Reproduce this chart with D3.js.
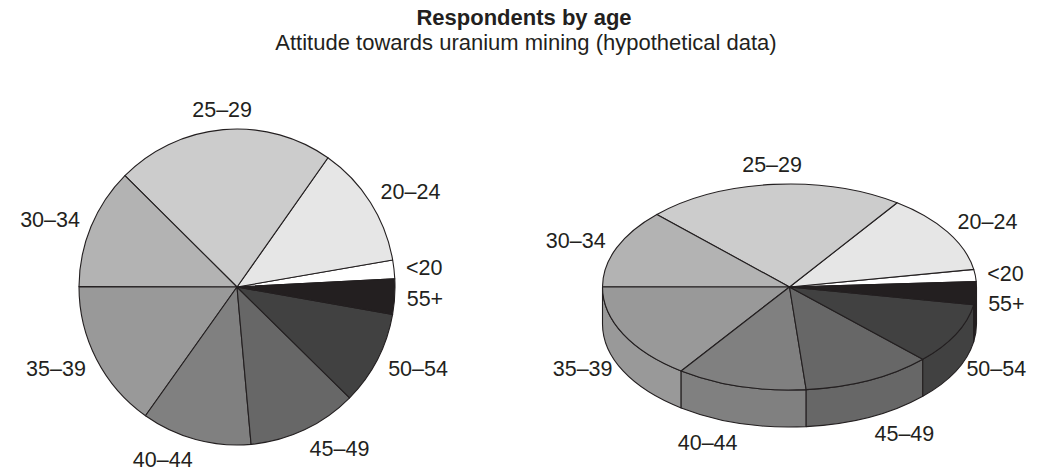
<!DOCTYPE html>
<html>
<head>
<meta charset="utf-8">
<script src="https://cdn.jsdelivr.net/npm/d3@7"></script>
<style>
  body { margin: 0; background: #fff; }
  svg { display: block; font-family: "Liberation Sans", Arial, sans-serif; }
</style>
</head>
<body>
<svg id="chart"></svg>
<script>
// age groups and share of respondents (%)
const ageGroups = ["<20", "20–24", "25–29", "30–34", "35–39", "40–44", "45–49", "50–54", "55+"];
const shares = [1.9, 12.5, 22.3, 12.4, 15.2, 11.25, 11.2, 9.6, 3.6];
const greys = ["#ffffff", "#e6e6e6", "#cccccc", "#b3b3b3", "#999999", "#808080", "#676767", "#414141", "#231f20"];

const title = "Respondents by age";
const subtitle = "Attitude towards uranium mining (hypothetical data)";

const width = 1039, height = 473;
const ink = "#231f20";

const svg = d3.select("#chart")
    .attr("width", width)
    .attr("height", height);

svg.append("rect").attr("width", width).attr("height", height).attr("fill", "#fff");

svg.append("text")
    .attr("x", 524).attr("y", 25)
    .attr("text-anchor", "middle")
    .attr("font-size", 22).attr("font-weight", "bold")
    .attr("fill", ink)
    .text(title);

svg.append("text")
    .attr("x", 526).attr("y", 50)
    .attr("text-anchor", "middle")
    .attr("font-size", 22)
    .attr("fill", ink)
    .text(subtitle);

const data = ageGroups.map((name, i) => ({ name, value: shares[i] }));

const color = d3.scaleOrdinal()
    .domain(ageGroups)
    .range(greys);

// slices run counter-clockwise, starting just above 3 o'clock
const startAngle = 87 * Math.PI / 180;
const pie = d3.pie()
    .sort(null)
    .value(d => d.value)
    .startAngle(startAngle)
    .endAngle(startAngle - 2 * Math.PI);

const arcs = pie(data);

// unit direction of a slice's middle, screen coordinates
const midDir = d => {
    const a = (d.startAngle + d.endAngle) / 2 - Math.PI / 2;
    return [Math.cos(a), Math.sin(a)];
};

function addLabel(g, d, px, py, ux, uy) {
    g.append("text")
        .attr("x", px)
        .attr("y", py + uy * 8)
        .attr("dy", "0.36em")
        .attr("text-anchor", ux > 0.2 ? "start" : ux < -0.2 ? "end" : "middle")
        .attr("font-size", 21.5)
        .attr("fill", ink)
        .text(d.data.name);
}

// ---- flat pie ----
{
    const cx = 237, cy = 287, r = 158, gap = 12;
    const g = svg.append("g").attr("transform", `translate(${cx},${cy})`);
    const arc = d3.arc().innerRadius(0).outerRadius(r);

    g.selectAll("path")
        .data(arcs)
        .join("path")
        .attr("d", arc)
        .attr("fill", d => color(d.data.name))
        .attr("stroke", ink)
        .attr("stroke-width", 1.1)
        .attr("stroke-linejoin", "round");

    const labels = g.append("g");
    arcs.forEach(d => {
        const [ux, uy] = midDir(d);
        addLabel(labels, d, (r + gap) * ux, (r + gap) * uy, ux, uy);
    });
}

// ---- 3D pie ----
{
    const cx = 789.5, cy = 287, rx = 187, ry = 103, depth = 37, gap = 12;
    const g = svg.append("g").attr("transform", `translate(${cx},${cy})`);
    const k = ry / rx;

    const pt = a => [rx * Math.cos(a), ry * Math.sin(a)];

    // side walls, front half only (screen angles 0..pi)
    const sides = [];
    arcs.forEach(d => {
        const a0 = Math.min(d.startAngle, d.endAngle) - Math.PI / 2;
        const a1 = Math.max(d.startAngle, d.endAngle) - Math.PI / 2;
        for (const shift of [-2 * Math.PI, 0, 2 * Math.PI]) {
            const lo = Math.max(a0, shift), hi = Math.min(a1, shift + Math.PI);
            if (hi > lo) sides.push({ d, lo, hi });
        }
    });

    g.append("g").selectAll("path")
        .data(sides)
        .join("path")
        .attr("d", s => {
            const [x0, y0] = pt(s.lo), [x1, y1] = pt(s.hi);
            return `M${x0},${y0}A${rx},${ry} 0 0 1 ${x1},${y1}` +
                `L${x1},${y1 + depth}A${rx},${ry} 0 0 0 ${x0},${y0 + depth}Z`;
        })
        .attr("fill", s => color(s.d.data.name))
        .attr("stroke", ink)
        .attr("stroke-width", 1.1)
        .attr("stroke-linejoin", "round");

    // top faces: the flat arc squashed vertically
    const arc = d3.arc().innerRadius(0).outerRadius(rx);
    g.append("g")
        .attr("transform", `scale(1,${k})`)
        .selectAll("path")
        .data(arcs)
        .join("path")
        .attr("d", arc)
        .attr("fill", d => color(d.data.name))
        .attr("stroke", ink)
        .attr("stroke-width", 1.1)
        .attr("stroke-linejoin", "round")
        .attr("vector-effect", "non-scaling-stroke");

    const labels = g.append("g");
    arcs.forEach(d => {
        const [ux, uy] = midDir(d);
        const px = (rx + gap) * ux;
        const py = (ry + gap) * uy + (uy > 0 ? depth * Math.sqrt(uy) : 0);
        addLabel(labels, d, px, py, ux, uy);
    });
}
</script>
</body>
</html>
